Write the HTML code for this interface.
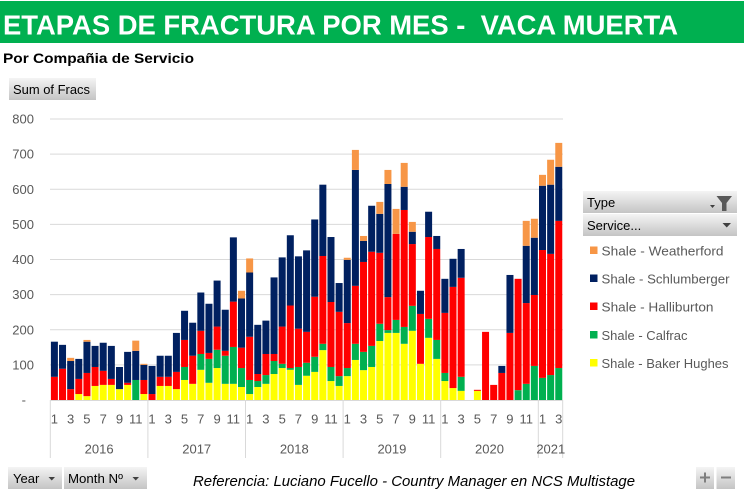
<!DOCTYPE html>
<html><head><meta charset="utf-8"><style>
html,body{margin:0;padding:0;background:#fff;}
svg{display:block;}
.y{fill:#FFFF00}.g{fill:#00B050}.r{fill:#FF0000}.n{fill:#002060}.o{fill:#F79646}
.ax{font-family:"Liberation Sans",sans-serif;font-size:13px;fill:#595959;}
</style></head><body>
<svg width="744" height="492" viewBox="0 0 744 492" xmlns="http://www.w3.org/2000/svg">
<defs>
<linearGradient id="bt" x1="0" y1="0" x2="0" y2="1"><stop offset="0" stop-color="#f4f4f4"/><stop offset="1" stop-color="#c4c4c4"/></linearGradient>
</defs>
<rect x="0" y="0" width="744" height="492" fill="#fff"/>
<rect x="0" y="1" width="744" height="42" fill="#00B050"/>
<text x="3" y="34.5" xml:space="preserve" font-family="Liberation Sans, sans-serif" font-weight="bold" font-size="28" fill="#fff" textLength="675" lengthAdjust="spacingAndGlyphs">ETAPAS DE FRACTURA POR MES -  VACA MUERTA</text>
<text x="3" y="63" font-family="Liberation Sans, sans-serif" font-weight="bold" font-size="14" fill="#000" textLength="191" lengthAdjust="spacingAndGlyphs">Por Compañia de Servicio</text>
<rect x="9" y="78" width="87" height="22" fill="url(#bt)"/>
<text x="13" y="94" font-family="Liberation Sans, sans-serif" font-size="13" fill="#000" textLength="77" lengthAdjust="spacingAndGlyphs">Sum of Fracs</text>
<g stroke="#d9d9d9" stroke-width="1">
<line x1="50" y1="364.9" x2="563" y2="364.9"/>
<line x1="50" y1="329.75" x2="563" y2="329.75"/>
<line x1="50" y1="294.6" x2="563" y2="294.6"/>
<line x1="50" y1="259.5" x2="563" y2="259.5"/>
<line x1="50" y1="224.4" x2="563" y2="224.4"/>
<line x1="50" y1="189.25" x2="563" y2="189.25"/>
<line x1="50" y1="154.1" x2="563" y2="154.1"/>
<line x1="50" y1="119" x2="563" y2="119"/>
<line x1="50" y1="400.5" x2="563" y2="400.5"/>
<line x1="50.3" y1="400" x2="50.3" y2="458"/>
<line x1="147.9" y1="400" x2="147.9" y2="458"/>
<line x1="245.5" y1="400" x2="245.5" y2="458"/>
<line x1="343.1" y1="400" x2="343.1" y2="458"/>
<line x1="440.7" y1="400" x2="440.7" y2="458"/>
<line x1="538.3" y1="400" x2="538.3" y2="458"/>
<line x1="562.7" y1="400" x2="562.7" y2="458"/>
</g>
<g class="ax" text-anchor="end">
<text x="34" y="123.6">800</text>
<text x="34" y="158.7">700</text>
<text x="34" y="193.9">600</text>
<text x="34" y="229">500</text>
<text x="34" y="264.1">400</text>
<text x="34" y="299.2">300</text>
<text x="34" y="334.4">200</text>
<text x="34" y="369.5">100</text>
<text x="26" y="404.5">-</text>
</g>
<g transform="translate(50.9,400) scale(8.135,-0.35125)">
<rect class="r" x="0" y="0" width=".86" height="66"/><rect class="n" x="0" y="66" width=".86" height="100"/>
<rect class="r" x="1" y="0" width=".86" height="89"/><rect class="n" x="1" y="89" width=".86" height="68"/>
<rect class="r" x="2" y="0" width=".86" height="31"/><rect class="n" x="2" y="31" width=".86" height="80"/><rect class="o" x="2" y="111" width=".86" height="9"/>
<rect class="y" x="3" y="0" width=".86" height="17"/><rect class="r" x="3" y="17" width=".86" height="43"/><rect class="n" x="3" y="60" width=".86" height="57"/>
<rect class="y" x="4" y="0" width=".86" height="11"/><rect class="r" x="4" y="11" width=".86" height="66"/><rect class="n" x="4" y="77" width=".86" height="89"/><rect class="o" x="4" y="166" width=".86" height="5"/>
<rect class="y" x="5" y="0" width=".86" height="40"/><rect class="r" x="5" y="40" width=".86" height="54"/><rect class="n" x="5" y="94" width=".86" height="60"/>
<rect class="y" x="6" y="0" width=".86" height="43"/><rect class="r" x="6" y="43" width=".86" height="40"/><rect class="n" x="6" y="83" width=".86" height="80"/>
<rect class="y" x="7" y="0" width=".86" height="43"/><rect class="r" x="7" y="43" width=".86" height="17"/><rect class="n" x="7" y="60" width=".86" height="94"/>
<rect class="y" x="8" y="0" width=".86" height="31"/><rect class="n" x="8" y="31" width=".86" height="63"/>
<rect class="y" x="9" y="0" width=".86" height="43"/><rect class="r" x="9" y="43" width=".86" height="6"/><rect class="n" x="9" y="49" width=".86" height="88"/>
<rect class="g" x="10" y="0" width=".86" height="57"/><rect class="n" x="10" y="57" width=".86" height="83"/><rect class="o" x="10" y="140" width=".86" height="29"/>
<rect class="y" x="11" y="0" width=".86" height="17"/><rect class="r" x="11" y="17" width=".86" height="40"/><rect class="n" x="11" y="57" width=".86" height="43"/><rect class="o" x="11" y="100" width=".86" height="3"/>
<rect class="r" x="12" y="0" width=".86" height="17"/><rect class="n" x="12" y="17" width=".86" height="80"/>
<rect class="y" x="13" y="0" width=".86" height="40"/><rect class="r" x="13" y="40" width=".86" height="26"/><rect class="n" x="13" y="66" width=".86" height="60"/>
<rect class="y" x="14" y="0" width=".86" height="40"/><rect class="r" x="14" y="40" width=".86" height="26"/><rect class="n" x="14" y="66" width=".86" height="60"/>
<rect class="y" x="15" y="0" width=".86" height="31"/><rect class="r" x="15" y="31" width=".86" height="49"/><rect class="n" x="15" y="80" width=".86" height="111"/>
<rect class="y" x="16" y="0" width=".86" height="57"/><rect class="g" x="16" y="57" width=".86" height="37"/><rect class="r" x="16" y="94" width=".86" height="77"/><rect class="n" x="16" y="171" width=".86" height="83"/>
<rect class="y" x="17" y="0" width=".86" height="46"/><rect class="r" x="17" y="46" width=".86" height="80"/><rect class="n" x="17" y="126" width=".86" height="94"/>
<rect class="y" x="18" y="0" width=".86" height="86"/><rect class="g" x="18" y="86" width=".86" height="45"/><rect class="r" x="18" y="131" width=".86" height="66"/><rect class="n" x="18" y="197" width=".86" height="109"/>
<rect class="y" x="19" y="0" width=".86" height="49"/><rect class="g" x="19" y="49" width=".86" height="68"/><rect class="r" x="19" y="117" width=".86" height="17"/><rect class="n" x="19" y="134" width=".86" height="140"/>
<rect class="y" x="20" y="0" width=".86" height="91"/><rect class="g" x="20" y="91" width=".86" height="52"/><rect class="r" x="20" y="143" width=".86" height="66"/><rect class="n" x="20" y="209" width=".86" height="131"/>
<rect class="y" x="21" y="0" width=".86" height="46"/><rect class="g" x="21" y="46" width=".86" height="80"/><rect class="r" x="21" y="126" width=".86" height="14"/><rect class="n" x="21" y="140" width=".86" height="117"/>
<rect class="y" x="22" y="0" width=".86" height="46"/><rect class="g" x="22" y="46" width=".86" height="105"/><rect class="r" x="22" y="151" width=".86" height="129"/><rect class="n" x="22" y="280" width=".86" height="183"/>
<rect class="y" x="23" y="0" width=".86" height="37"/><rect class="g" x="23" y="37" width=".86" height="54"/><rect class="r" x="23" y="91" width=".86" height="58"/><rect class="n" x="23" y="149" width=".86" height="140"/><rect class="o" x="23" y="289" width=".86" height="22"/>
<rect class="y" x="24" y="0" width=".86" height="17"/><rect class="g" x="24" y="17" width=".86" height="40"/><rect class="r" x="24" y="57" width=".86" height="123"/><rect class="n" x="24" y="180" width=".86" height="183"/><rect class="o" x="24" y="363" width=".86" height="40"/>
<rect class="y" x="25" y="0" width=".86" height="37"/><rect class="g" x="25" y="37" width=".86" height="17"/><rect class="r" x="25" y="54" width=".86" height="20"/><rect class="n" x="25" y="74" width=".86" height="140"/>
<rect class="y" x="26" y="0" width=".86" height="46"/><rect class="g" x="26" y="46" width=".86" height="25"/><rect class="r" x="26" y="71" width=".86" height="60"/><rect class="n" x="26" y="131" width=".86" height="95"/>
<rect class="y" x="27" y="0" width=".86" height="74"/><rect class="g" x="27" y="74" width=".86" height="37"/><rect class="r" x="27" y="111" width=".86" height="20"/><rect class="n" x="27" y="131" width=".86" height="218"/>
<rect class="y" x="28" y="0" width=".86" height="91"/><rect class="g" x="28" y="91" width=".86" height="12"/><rect class="r" x="28" y="103" width=".86" height="106"/><rect class="n" x="28" y="209" width=".86" height="197"/>
<rect class="y" x="29" y="0" width=".86" height="86"/><rect class="g" x="29" y="86" width=".86" height="5"/><rect class="r" x="29" y="91" width=".86" height="178"/><rect class="n" x="29" y="269" width=".86" height="200"/>
<rect class="y" x="30" y="0" width=".86" height="43"/><rect class="g" x="30" y="43" width=".86" height="51"/><rect class="r" x="30" y="94" width=".86" height="109"/><rect class="n" x="30" y="203" width=".86" height="206"/>
<rect class="y" x="31" y="0" width=".86" height="69"/><rect class="g" x="31" y="69" width=".86" height="37"/><rect class="r" x="31" y="106" width=".86" height="88"/><rect class="n" x="31" y="194" width=".86" height="232"/>
<rect class="y" x="32" y="0" width=".86" height="80"/><rect class="g" x="32" y="80" width=".86" height="43"/><rect class="r" x="32" y="123" width=".86" height="171"/><rect class="n" x="32" y="294" width=".86" height="220"/>
<rect class="y" x="33" y="0" width=".86" height="142"/><rect class="g" x="33" y="142" width=".86" height="18"/><rect class="r" x="33" y="160" width=".86" height="250"/><rect class="n" x="33" y="410" width=".86" height="203"/>
<rect class="y" x="34" y="0" width=".86" height="54"/><rect class="g" x="34" y="54" width=".86" height="40"/><rect class="r" x="34" y="94" width=".86" height="185"/><rect class="n" x="34" y="279" width=".86" height="185"/>
<rect class="y" x="35" y="0" width=".86" height="40"/><rect class="g" x="35" y="40" width=".86" height="28"/><rect class="r" x="35" y="68" width=".86" height="183"/><rect class="n" x="35" y="251" width=".86" height="82"/>
<rect class="y" x="36" y="0" width=".86" height="68"/><rect class="g" x="36" y="68" width=".86" height="23"/><rect class="r" x="36" y="91" width=".86" height="128"/><rect class="n" x="36" y="219" width=".86" height="180"/><rect class="o" x="36" y="399" width=".86" height="6"/>
<rect class="y" x="37" y="0" width=".86" height="114"/><rect class="g" x="37" y="114" width=".86" height="46"/><rect class="r" x="37" y="160" width=".86" height="165"/><rect class="n" x="37" y="325" width=".86" height="330"/><rect class="o" x="37" y="655" width=".86" height="57"/>
<rect class="y" x="38" y="0" width=".86" height="85"/><rect class="g" x="38" y="85" width=".86" height="52"/><rect class="r" x="38" y="137" width=".86" height="256"/><rect class="n" x="38" y="393" width=".86" height="60"/><rect class="o" x="38" y="453" width=".86" height="14"/>
<rect class="y" x="39" y="0" width=".86" height="94"/><rect class="g" x="39" y="94" width=".86" height="60"/><rect class="r" x="39" y="154" width=".86" height="268"/><rect class="n" x="39" y="422" width=".86" height="131"/>
<rect class="y" x="40" y="0" width=".86" height="168"/><rect class="g" x="40" y="168" width=".86" height="49"/><rect class="r" x="40" y="217" width=".86" height="202"/><rect class="n" x="40" y="419" width=".86" height="111"/><rect class="o" x="40" y="530" width=".86" height="34"/>
<rect class="y" x="41" y="0" width=".86" height="191"/><rect class="g" x="41" y="191" width=".86" height="8"/><rect class="r" x="41" y="199" width=".86" height="94"/><rect class="n" x="41" y="293" width=".86" height="322"/><rect class="o" x="41" y="615" width=".86" height="40"/>
<rect class="y" x="42" y="0" width=".86" height="191"/><rect class="g" x="42" y="191" width=".86" height="37"/><rect class="r" x="42" y="228" width=".86" height="245"/><rect class="o" x="42" y="473" width=".86" height="71"/>
<rect class="y" x="43" y="0" width=".86" height="160"/><rect class="g" x="43" y="160" width=".86" height="48"/><rect class="r" x="43" y="208" width=".86" height="333"/><rect class="n" x="43" y="541" width=".86" height="66"/><rect class="o" x="43" y="607" width=".86" height="68"/>
<rect class="y" x="44" y="0" width=".86" height="197"/><rect class="g" x="44" y="197" width=".86" height="71"/><rect class="r" x="44" y="268" width=".86" height="176"/><rect class="n" x="44" y="444" width=".86" height="35"/><rect class="o" x="44" y="479" width=".86" height="28"/>
<rect class="y" x="45" y="0" width=".86" height="103"/><rect class="r" x="45" y="103" width=".86" height="142"/><rect class="n" x="45" y="245" width=".86" height="66"/>
<rect class="y" x="46" y="0" width=".86" height="177"/><rect class="g" x="46" y="177" width=".86" height="54"/><rect class="r" x="46" y="231" width=".86" height="233"/><rect class="n" x="46" y="464" width=".86" height="72"/>
<rect class="y" x="47" y="0" width=".86" height="117"/><rect class="g" x="47" y="117" width=".86" height="54"/><rect class="r" x="47" y="171" width=".86" height="259"/><rect class="n" x="47" y="430" width=".86" height="37"/>
<rect class="y" x="48" y="0" width=".86" height="54"/><rect class="g" x="48" y="54" width=".86" height="23"/><rect class="r" x="48" y="77" width=".86" height="171"/><rect class="n" x="48" y="248" width=".86" height="97"/>
<rect class="y" x="49" y="0" width=".86" height="34"/><rect class="r" x="49" y="34" width=".86" height="288"/><rect class="n" x="49" y="322" width=".86" height="80"/>
<rect class="y" x="50" y="0" width=".86" height="26"/><rect class="g" x="50" y="26" width=".86" height="40"/><rect class="r" x="50" y="66" width=".86" height="282"/><rect class="n" x="50" y="348" width=".86" height="82"/>
<rect class="y" x="52" y="0" width=".86" height="26"/><rect class="r" x="52" y="26" width=".86" height="3"/>
<rect class="r" x="53" y="0" width=".86" height="194"/>
<rect class="r" x="54" y="0" width=".86" height="43"/>
<rect class="r" x="55" y="0" width=".86" height="77"/><rect class="n" x="55" y="77" width=".86" height="20"/>
<rect class="r" x="56" y="0" width=".86" height="191"/><rect class="n" x="56" y="191" width=".86" height="165"/>
<rect class="g" x="57" y="0" width=".86" height="28"/><rect class="r" x="57" y="28" width=".86" height="317"/>
<rect class="g" x="58" y="0" width=".86" height="46"/><rect class="r" x="58" y="46" width=".86" height="230"/><rect class="n" x="58" y="276" width=".86" height="163"/><rect class="o" x="58" y="439" width=".86" height="71"/>
<rect class="g" x="59" y="0" width=".86" height="97"/><rect class="r" x="59" y="97" width=".86" height="202"/><rect class="n" x="59" y="299" width=".86" height="163"/><rect class="o" x="59" y="462" width=".86" height="54"/>
<rect class="g" x="60" y="0" width=".86" height="63"/><rect class="r" x="60" y="63" width=".86" height="364"/><rect class="n" x="60" y="427" width=".86" height="183"/><rect class="o" x="60" y="610" width=".86" height="31"/>
<rect class="g" x="61" y="0" width=".86" height="71"/><rect class="r" x="61" y="71" width=".86" height="345"/><rect class="n" x="61" y="416" width=".86" height="197"/><rect class="o" x="61" y="613" width=".86" height="71"/>
<rect class="g" x="62" y="0" width=".86" height="91"/><rect class="r" x="62" y="91" width=".86" height="419"/><rect class="n" x="62" y="510" width=".86" height="154"/><rect class="o" x="62" y="664" width=".86" height="68"/>
</g>
<g class="ax" text-anchor="middle">
<text x="54.4" y="423.5">1</text><text x="70.6" y="423.5">3</text><text x="86.9" y="423.5">5</text><text x="103.2" y="423.5">7</text><text x="119.5" y="423.5">9</text><text x="135.7" y="423.5">11</text>
<text x="152" y="423.5">1</text><text x="168.3" y="423.5">3</text><text x="184.5" y="423.5">5</text><text x="200.8" y="423.5">7</text><text x="217.1" y="423.5">9</text><text x="233.3" y="423.5">11</text>
<text x="249.6" y="423.5">1</text><text x="265.9" y="423.5">3</text><text x="282.2" y="423.5">5</text><text x="298.4" y="423.5">7</text><text x="314.7" y="423.5">9</text><text x="331" y="423.5">11</text>
<text x="347.2" y="423.5">1</text><text x="363.5" y="423.5">3</text><text x="379.8" y="423.5">5</text><text x="396" y="423.5">7</text><text x="412.3" y="423.5">9</text><text x="428.6" y="423.5">11</text>
<text x="444.9" y="423.5">1</text><text x="461.1" y="423.5">3</text><text x="477.4" y="423.5">5</text><text x="493.7" y="423.5">7</text><text x="509.9" y="423.5">9</text><text x="526.2" y="423.5">11</text>
<text x="542.5" y="423.5">1</text><text x="558.7" y="423.5">3</text>
<text x="99.1" y="453.5">2016</text>
<text x="196.7" y="453.5">2017</text>
<text x="294.3" y="453.5">2018</text>
<text x="391.9" y="453.5">2019</text>
<text x="489.5" y="453.5">2020</text>
<text x="550.8" y="453.5">2021</text>
</g>
<rect x="583" y="191" width="154" height="22" fill="url(#bt)"/>
<text x="587" y="207" font-family="Liberation Sans, sans-serif" font-size="13" fill="#000">Type</text>
<polygon points="710,205 715,205 712.5,208" fill="#404040"/>
<polygon points="716.5,196 732,196 726.5,203 726.5,211 722,211 722,203" fill="#595959"/>
<rect x="583" y="214" width="154" height="22" fill="url(#bt)"/>
<text x="587" y="230" font-family="Liberation Sans, sans-serif" font-size="13" fill="#000">Service...</text>
<polygon points="722.5,223 731,223 726.75,227.5" fill="#404040"/>
<g font-family="Liberation Sans, sans-serif" font-size="13" fill="#595959">
<rect x="590" y="246.5" width="7.5" height="7.5" fill="#F79646"/>
<text x="601.5" y="255.5" textLength="122" lengthAdjust="spacingAndGlyphs">Shale - Weatherford</text>
<rect x="590" y="274.5" width="7.5" height="7.5" fill="#002060"/>
<text x="601.5" y="283.5" textLength="128" lengthAdjust="spacingAndGlyphs">Shale - Schlumberger</text>
<rect x="590" y="302.5" width="7.5" height="7.5" fill="#FF0000"/>
<text x="601.5" y="311.5" textLength="112" lengthAdjust="spacingAndGlyphs">Shale - Halliburton</text>
<rect x="590" y="331" width="7.5" height="7.5" fill="#00B050"/>
<text x="601.5" y="340" textLength="86" lengthAdjust="spacingAndGlyphs">Shale - Calfrac</text>
<rect x="590" y="359" width="7.5" height="7.5" fill="#FFFF00"/>
<text x="601.5" y="368" textLength="127" lengthAdjust="spacingAndGlyphs">Shale - Baker Hughes</text>
</g>
<rect x="8" y="467" width="54" height="22" fill="url(#bt)"/>
<text x="13" y="483" font-family="Liberation Sans, sans-serif" font-size="13" fill="#000">Year</text>
<polygon points="48.5,477 55,477 51.75,480.5" fill="#404040"/>
<rect x="64" y="467" width="83" height="22" fill="url(#bt)"/>
<text x="68" y="483" font-family="Liberation Sans, sans-serif" font-size="13" fill="#000" textLength="55" lengthAdjust="spacingAndGlyphs">Month Nº</text>
<polygon points="132.5,477 139,477 135.75,480.5" fill="#404040"/>
<text x="193" y="486" font-family="Liberation Sans, sans-serif" font-style="italic" font-size="15" fill="#000" textLength="442" lengthAdjust="spacingAndGlyphs">Referencia: Luciano Fucello - Country Manager en NCS Multistage</text>
<rect x="696" y="467" width="18" height="22" fill="url(#bt)"/>
<rect x="716.5" y="467" width="18.5" height="22" fill="url(#bt)"/>
<g stroke="#7f7f7f" stroke-width="2">
<line x1="700" y1="477.5" x2="710" y2="477.5"/><line x1="705" y1="472.5" x2="705" y2="482.5"/>
<line x1="721" y1="477.5" x2="731" y2="477.5"/>
</g>
</svg>
</body></html>
